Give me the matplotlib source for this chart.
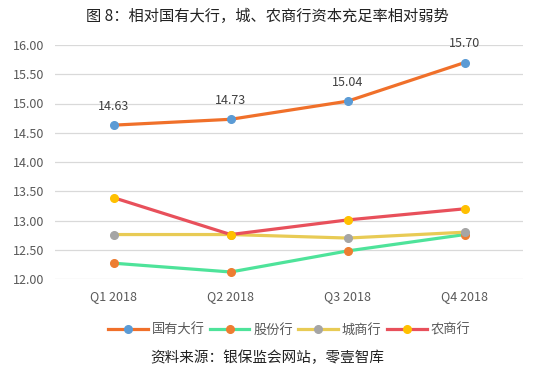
import matplotlib
matplotlib.use('Agg')
import matplotlib.pyplot as plt
import numpy as np

plt.rcParams['font.family'] = ['Noto Sans CJK SC', 'DejaVu Sans']

quarters = ['Q1 2018', 'Q2 2018', 'Q3 2018', 'Q4 2018']
big_banks = [14.63, 14.73, 15.04, 15.70]
joint_stock = [12.27, 12.12, 12.48, 12.76]
city_banks = [12.76, 12.76, 12.70, 12.80]
rural_banks = [13.39, 12.76, 13.01, 13.20]

series = [
    ('国有大行', big_banks, '#F0702A', '#5B9BD5'),
    ('股份行', joint_stock, '#4EE39A', '#ED7D31'),
    ('城商行', city_banks, '#E8CB55', '#A5A5A5'),
    ('农商行', rural_banks, '#E8505B', '#FFC000'),
]

fig = plt.figure(figsize=(5.35, 3.75), dpi=100)
ax = fig.add_axes([0.103, 0.256, 0.875, 0.624])

x = np.arange(len(quarters))
for name, vals, lc, mc in series:
    ax.plot(x, vals, color=lc, lw=2.3, marker='o', ms=5.5,
            mfc=mc, mec=mc, label=name, zorder=3)

for xi, v in zip(x, big_banks):
    ax.annotate(f'{v:.2f}', (xi, v), xytext=(0, 9), textcoords='offset points',
                ha='center', va='bottom', fontsize=9, color='#404040')

ax.set_xlim(-0.5, 3.5)
ax.set_ylim(12.0, 16.0)
ax.set_yticks(np.arange(12.0, 16.01, 0.5))
ax.set_yticklabels([f'{t:.2f}' for t in np.arange(12.0, 16.01, 0.5)])
ax.set_xticks(x)
ax.set_xticklabels(quarters)
ax.tick_params(length=0, labelsize=9, colors='#595959', pad=8)
ax.grid(axis='y', color='#D9D9D9', lw=0.9)
ax.set_axisbelow(True)
for s in ax.spines.values():
    s.set_visible(False)

fig.text(0.5, 0.955, '图 8：相对国有大行，城、农商行资本充足率相对弱势',
         ha='center', va='center', fontsize=11, color='#222222')

ax.legend(loc='upper center', bbox_to_anchor=(0.5, -0.14), ncol=4,
          frameon=False, fontsize=9.5, handlelength=3.0, columnspacing=0.4,
          handletextpad=0.3, labelcolor='#595959')

fig.text(0.5, 0.045, '资料来源：银保监会网站，零壹智库',
         ha='center', va='center', fontsize=10.5, color='#222222')

fig.savefig('out.png', dpi=100)
